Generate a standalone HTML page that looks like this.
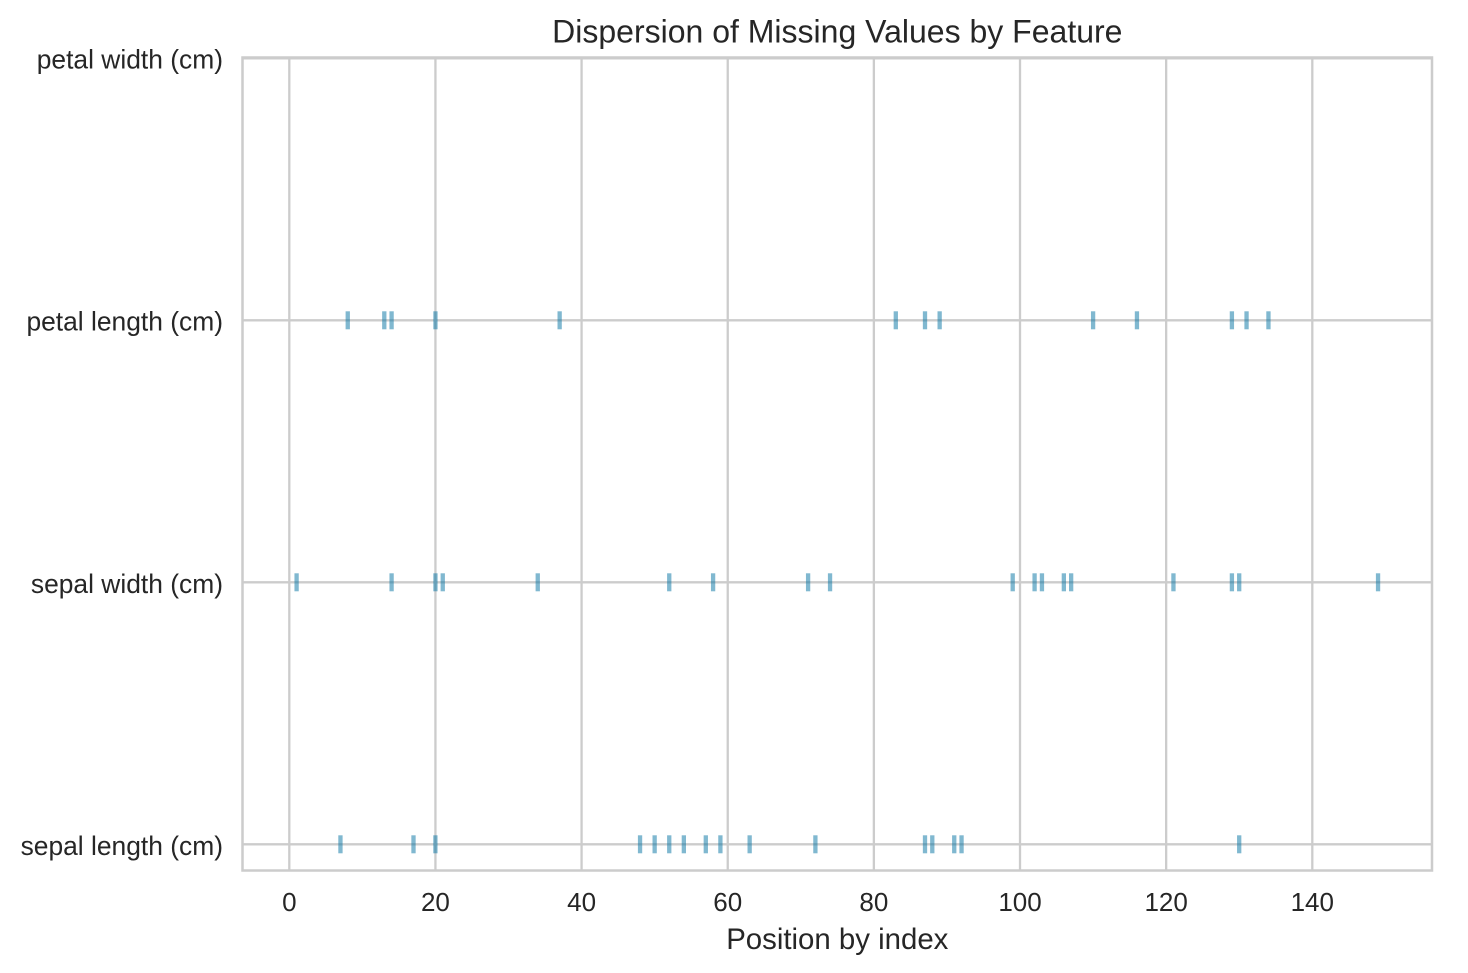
<!DOCTYPE html>
<html><head><meta charset="utf-8"><style>
html,body{margin:0;padding:0;background:#fff;}
svg{display:block;}
text{font-family:"Liberation Sans",Arial,sans-serif;fill:#262626;}
</style></head><body>
<svg width="1468" height="973" viewBox="0 0 1468 973" xmlns="http://www.w3.org/2000/svg">
<rect x="0" y="0" width="1468" height="973" fill="#fff"/>
<!-- grid -->
<g stroke="#cccccc" stroke-width="2.3" fill="none">
<line x1="289.3" y1="57.5" x2="289.3" y2="870.5"/>
<line x1="435.44" y1="57.5" x2="435.44" y2="870.5"/>
<line x1="581.58" y1="57.5" x2="581.58" y2="870.5"/>
<line x1="727.73" y1="57.5" x2="727.73" y2="870.5"/>
<line x1="873.87" y1="57.5" x2="873.87" y2="870.5"/>
<line x1="1020.01" y1="57.5" x2="1020.01" y2="870.5"/>
<line x1="1166.16" y1="57.5" x2="1166.16" y2="870.5"/>
<line x1="1312.3" y1="57.5" x2="1312.3" y2="870.5"/>
<line x1="242.5" y1="844.3" x2="1432" y2="844.3"/>
<line x1="242.5" y1="582.3" x2="1432" y2="582.3"/>
<line x1="242.5" y1="320.3" x2="1432" y2="320.3"/>
<line x1="242.5" y1="58.3" x2="1432" y2="58.3"/>
</g>
<!-- markers -->
<g fill="rgba(2,114,162,0.5)">
<!-- sepal length -->
<rect x="338.3" y="835.3" width="4.3" height="18"/>
<rect x="411.35" y="835.3" width="4.3" height="18"/>
<rect x="433.25" y="835.3" width="4.3" height="18"/>
<rect x="637.9" y="835.3" width="4.3" height="18"/>
<rect x="652.5" y="835.3" width="4.3" height="18"/>
<rect x="667.1" y="835.3" width="4.3" height="18"/>
<rect x="681.7" y="835.3" width="4.3" height="18"/>
<rect x="703.65" y="835.3" width="4.3" height="18"/>
<rect x="718.25" y="835.3" width="4.3" height="18"/>
<rect x="747.5" y="835.3" width="4.3" height="18"/>
<rect x="813.25" y="835.3" width="4.3" height="18"/>
<rect x="922.85" y="835.3" width="4.3" height="18"/>
<rect x="930.15" y="835.3" width="4.3" height="18"/>
<rect x="952.1" y="835.3" width="4.3" height="18"/>
<rect x="959.4" y="835.3" width="4.3" height="18"/>
<rect x="1237.05" y="835.3" width="4.3" height="18"/>
<!-- sepal width -->
<rect x="294.45" y="573.3" width="4.3" height="18"/>
<rect x="389.45" y="573.3" width="4.3" height="18"/>
<rect x="433.3" y="573.3" width="4.3" height="18"/>
<rect x="440.6" y="573.3" width="4.3" height="18"/>
<rect x="535.6" y="573.3" width="4.3" height="18"/>
<rect x="667.1" y="573.3" width="4.3" height="18"/>
<rect x="710.95" y="573.3" width="4.3" height="18"/>
<rect x="805.95" y="573.3" width="4.3" height="18"/>
<rect x="827.9" y="573.3" width="4.3" height="18"/>
<rect x="1010.55" y="573.3" width="4.3" height="18"/>
<rect x="1032.45" y="573.3" width="4.3" height="18"/>
<rect x="1039.8" y="573.3" width="4.3" height="18"/>
<rect x="1061.7" y="573.3" width="4.3" height="18"/>
<rect x="1069.0" y="573.3" width="4.3" height="18"/>
<rect x="1171.3" y="573.3" width="4.3" height="18"/>
<rect x="1229.75" y="573.3" width="4.3" height="18"/>
<rect x="1237.05" y="573.3" width="4.3" height="18"/>
<rect x="1375.9" y="573.3" width="4.3" height="18"/>
<!-- petal length -->
<rect x="345.6" y="311.3" width="4.3" height="18"/>
<rect x="382.15" y="311.3" width="4.3" height="18"/>
<rect x="389.45" y="311.3" width="4.3" height="18"/>
<rect x="433.3" y="311.3" width="4.3" height="18"/>
<rect x="557.5" y="311.3" width="4.3" height="18"/>
<rect x="893.65" y="311.3" width="4.3" height="18"/>
<rect x="922.85" y="311.3" width="4.3" height="18"/>
<rect x="937.5" y="311.3" width="4.3" height="18"/>
<rect x="1090.95" y="311.3" width="4.3" height="18"/>
<rect x="1134.8" y="311.3" width="4.3" height="18"/>
<rect x="1229.75" y="311.3" width="4.3" height="18"/>
<rect x="1244.4" y="311.3" width="4.3" height="18"/>
<rect x="1266.3" y="311.3" width="4.3" height="18"/>
</g>
<!-- frame -->
<rect x="242.5" y="57.5" width="1189.5" height="813" fill="none" stroke="#cccccc" stroke-width="2.5"/>
<!-- y tick labels -->
<g font-size="26.4" text-anchor="end">
<text x="223" y="68.5">petal width (cm)</text>
<text x="223" y="330.5">petal length (cm)</text>
<text x="223" y="592.8">sepal width (cm)</text>
<text x="223" y="854.8">sepal length (cm)</text>
</g>
<!-- x tick labels -->
<g font-size="26" text-anchor="middle">
<text x="289.3" y="911">0</text>
<text x="435.44" y="911">20</text>
<text x="581.58" y="911">40</text>
<text x="727.73" y="911">60</text>
<text x="873.87" y="911">80</text>
<text x="1020.01" y="911">100</text>
<text x="1166.16" y="911">120</text>
<text x="1312.3" y="911">140</text>
</g>
<text x="837.3" y="949" font-size="29.4" text-anchor="middle">Position by index</text>
<text x="837.3" y="42.5" font-size="32" text-anchor="middle">Dispersion of Missing Values by Feature</text>
</svg>
</body></html>
